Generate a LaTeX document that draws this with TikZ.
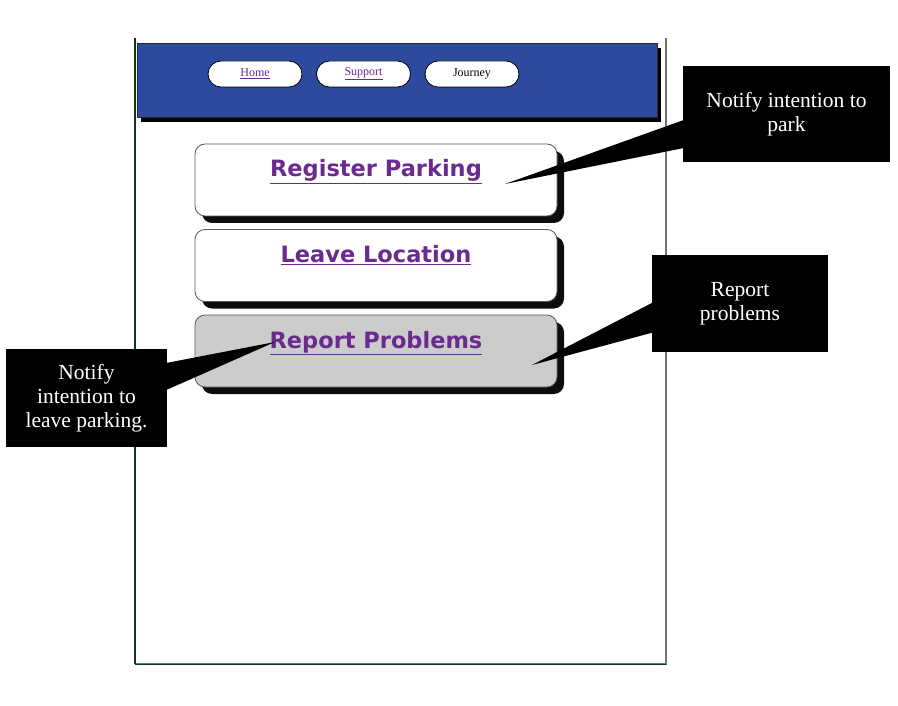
\documentclass[tikz,border=0pt]{standalone}
\usepackage{fontspec}
\setmainfont{Liberation Serif}
\newfontfamily\btnfont{DejaVu Sans}
\usetikzlibrary{shadows}
\definecolor{hdrblue}{HTML}{2E4A9E}
\definecolor{linkpurple}{HTML}{6A2A8E}
\definecolor{framegreen}{HTML}{0B3A1A}
\definecolor{btngray}{HTML}{CCCCCC}
\tikzset{
  pill/.style={draw=black, line width=0.8pt, fill=white, rounded corners=13pt, minimum width=94pt, minimum height=26pt, inner sep=0pt, font=\fontsize{12}{14}\selectfont},
  btnbox/.style={draw=black!65, line width=0.8pt, rounded corners=10pt, minimum width=362pt, minimum height=72pt, inner sep=0pt,
    drop shadow={shadow xshift=7pt, shadow yshift=-7pt, opacity=0.95, fill=black}},
  btntext/.style={font=\btnfont\bfseries\fontsize{22.5}{26}\selectfont, text=linkpurple, inner sep=0pt, anchor=base},
  callout/.style={fill=black, text=white, align=center, inner sep=0pt, font=\fontsize{21.5}{24}\selectfont},
  wedge/.style={fill=black}
}
\begin{document}
\begin{tikzpicture}[x=1pt,y=-1pt]
\useasboundingbox[fill=white] (0,0) rectangle (898,706);
% page frame
\coordinate (ftl) at (135,38);
\coordinate (fbl) at (135,664);
\coordinate (fbr) at (666,664);
\coordinate (ftr) at (666,38);
\draw[black!55, line width=1.2pt] (fbl) -- (fbr) -- (ftr);
\draw[framegreen, line width=2.6pt] (ftl) -- (fbl);
\draw[framegreen, line width=0.8pt] (fbl) -- (fbr);
% header
\node[draw=black!85, line width=1pt, fill=hdrblue, minimum width=520pt, minimum height=74pt, inner sep=0pt,
  drop shadow={shadow xshift=4pt, shadow yshift=-4pt, opacity=1, fill=black}] (hdr) at (397,81) {};
\node[pill] (home) at (255,74) {\color{linkpurple}\underline{Home}};
\node[pill] (support) at (363.5,74) {\color{linkpurple}\underline{Support}};
\node[pill] (journey) at (472,74) {Journey};
% buttons
\node[btnbox, fill=white] (reg) at (376,180) {};
\node[btntext] (regT) at (376,177) {\underline{Register Parking}};
\node[btnbox, fill=white] (leave) at (376,265.5) {};
\node[btntext] (leaveT) at (376,262) {\underline{Leave Location}};
\node[btnbox, fill=btngray] (rep) at (376,351) {};
\node[btntext] (repT) at (376,348) {\underline{Report Problems}};
% callouts
\node[callout, minimum width=207pt, minimum height=96pt] (c1) at (786.5,114) {Notify intention to\\park};
\node[callout, minimum width=176pt, minimum height=97pt] (c2) at (740,303.5) {Report\\problems};
\node[callout, minimum width=161pt, minimum height=98pt] (c3) at (86.5,398) {Notify\\intention to\\leave parking.};
\coordinate (t1) at (505,184);
\coordinate (t2) at (532,365);
\coordinate (t3) at (275,342);
\fill[wedge] (t1) -- ([yshift=-6pt,xshift=1pt]c1.west) -- ([yshift=-34pt,xshift=1pt]c1.west) -- cycle;
\fill[wedge] (t2) -- ([yshift=1pt,xshift=1pt]c2.west) -- ([yshift=-29pt,xshift=1pt]c2.west) -- cycle;
\fill[wedge] (t3) -- ([yshift=35pt,xshift=-1pt]c3.east) -- ([yshift=8pt,xshift=-1pt]c3.east) -- cycle;
\end{tikzpicture}
\end{document}
